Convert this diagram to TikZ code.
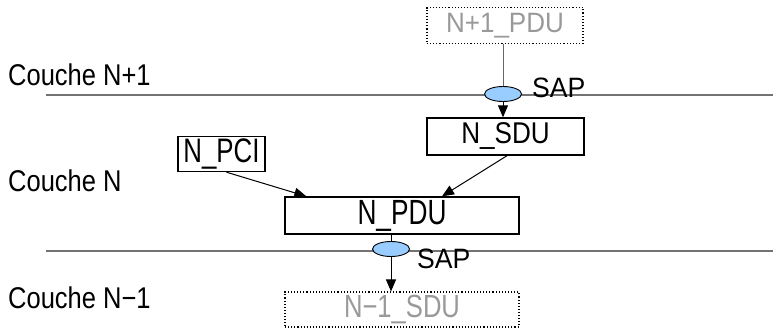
\documentclass[tikz,border=0pt]{standalone}
\usepackage{fontspec}
\setmainfont{Liberation Sans}
\usetikzlibrary{arrows.meta,shapes.geometric}
\definecolor{sapblue}{HTML}{99CCFF}
% size, horizontal squeeze, text
\newcommand{\squeezed}[3]{{\fontsize{#1}{#1}\selectfont\scalebox{#2}[1]{#3}}}

\begin{document}
\begin{tikzpicture}[
  x=1pt, y=-1pt,
  every node/.style={inner sep=0pt},
  pdubox/.style={draw=black, line width=1.4pt, minimum height=37pt},
  ghostbox/.style={draw=black, dotted, line width=1.1pt, text=black!40, minimum height=36pt},
  sap/.style={ellipse, draw=black, line width=0.9pt, fill=sapblue,
    minimum width=37pt, minimum height=15pt},
  layer/.style={draw=black!55, line width=1.6pt},
  link/.style={line width=1pt, -{Triangle[length=12pt,width=10pt]}},
]
\useasboundingbox (0,0) rectangle (773,330);

% layers
\coordinate (upleft) at (46,95);
\coordinate (upright) at (773,95);
\coordinate (lowleft) at (46,251);
\coordinate (lowright) at (773,251);
\draw[layer] (upleft) -- (upright);
\draw[layer] (lowleft) -- (lowright);

\node[anchor=base west] (layerup) at (8,85) {\squeezed{30}{0.85}{Couche N+1}};
\node[anchor=base west] (layer) at (8,191.5) {\squeezed{30}{0.85}{Couche N}};
\node[anchor=base west] (layerlow) at (8,308) {\squeezed{30}{0.85}{Couche N−1}};

% data units
\node[ghostbox, minimum width=156pt] (npluspdu) at (505,25.5) {\squeezed{28}{0.93}{N+1\_PDU}};
\node[pdubox, minimum width=157pt] (nsdu) at (505.5,136.5) {\squeezed{30}{0.87}{N\_SDU}};
\node[pdubox, minimum width=87pt, minimum height=35pt] (npci) at (221.5,154) {\squeezed{34}{0.76}{N\_PCI}};
\node[pdubox, minimum width=234pt] (npdu) at (402,215.5) {\squeezed{35}{0.75}{N\_PDU}};
\node[ghostbox, minimum width=234pt, minimum height=35pt] (nminussdu) at (402,309.5) {\squeezed{32}{0.8}{N−1\_SDU}};

% service access points
\node[sap] (sapup) at (503,94) {};
\node[sap] (sapdown) at (391,249) {};
\node[anchor=base west] (sapuptext) at (532,97) {\squeezed{28}{0.95}{SAP}};
\node[anchor=base west] (sapdowntext) at (417,268) {\squeezed{28}{0.95}{SAP}};

\draw[line width=1pt, draw=black!60] (sapup |- npluspdu.south) -- (sapup.north);
\draw[link] (sapup.south) -- (sapup |- nsdu.north);
\draw[line width=1pt] (sapdown |- npdu.south) -- (sapdown.north);
\draw[link] (sapdown.south) -- (sapdown |- nminussdu.north);
\draw[link] ([xshift=5pt]npci.south) -- ([xshift=22pt]npdu.north west);
\draw[link] ([xshift=1.5pt]nsdu.south) -- ([xshift=40pt]npdu.north);
\end{tikzpicture}
\end{document}
